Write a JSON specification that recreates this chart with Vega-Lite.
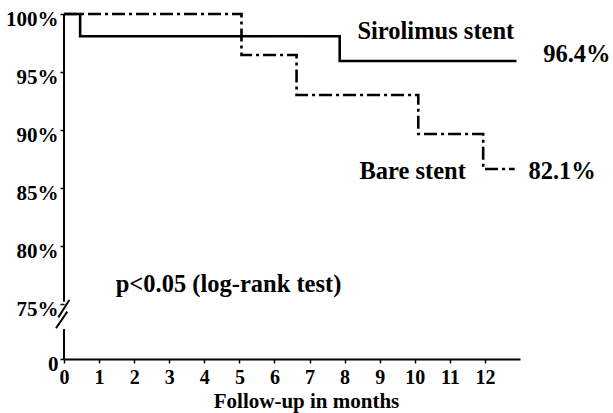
{
  "$schema": "https://vega.github.io/schema/vega-lite/v6.json",
  "autosize": "none",
  "padding": {"left": 64, "top": 14, "right": 93, "bottom": 54},
  "width": 456,
  "height": 345,
  "background": "white",
  "config": {
    "view": {"stroke": null},
    "axis": {
      "labelFont": "Liberation Serif",
      "labelFontWeight": "bold",
      "labelColor": "black",
      "titleFont": "Liberation Serif",
      "titleFontWeight": "bold",
      "titleColor": "black",
      "tickColor": "black",
      "domainColor": "black",
      "grid": false
    }
  },
  "datasets": {
    "curves": [
      {"group": "Sirolimus stent", "month": 0, "pct": 100},
      {"group": "Sirolimus stent", "month": 0.46, "pct": 98.08},
      {"group": "Sirolimus stent", "month": 7.86, "pct": 95.95},
      {"group": "Sirolimus stent", "month": 12.9, "pct": 95.95},
      {"group": "Bare stent", "month": 0, "pct": 100},
      {"group": "Bare stent", "month": 5.06, "pct": 96.47},
      {"group": "Bare stent", "month": 6.63, "pct": 93.02},
      {"group": "Bare stent", "month": 10.1, "pct": 89.66},
      {"group": "Bare stent", "month": 11.95, "pct": 86.64},
      {"group": "Bare stent", "month": 12.85, "pct": 86.64}
    ],
    "axisparts": [
      {"month": 0, "month2": 0, "pct": 75.2, "pct2": 100},
      {"month": 0, "month2": 0, "pct": 70.26, "pct2": 72.84},
      {"month": 0.151, "month2": -0.162, "pct": 75.34, "pct2": 73.85},
      {"month": 0.094, "month2": -0.228, "pct": 74.34, "pct2": 72.91}
    ],
    "labels": [
      {"month": 10.6, "pct": 98.45, "text": "Sirolimus stent"},
      {"month": 14.62, "pct": 96.47, "text": "96.4%"},
      {"month": 9.94, "pct": 86.4, "text": "Bare stent"},
      {"month": 14.2, "pct": 86.4, "text": "82.1%"},
      {"month": 4.69, "pct": 76.64, "text": "p<0.05 (log-rank test)"}
    ]
  },
  "encoding": {
    "x": {
      "field": "month", "type": "quantitative",
      "scale": {"domain": [0, 13], "nice": false, "zero": false},
      "axis": {
        "title": "Follow-up in months",
        "values": [0,1,2,3,4,5,6,7,8,9,10,11,12],
        "labelOverlap": false,
        "tickSize": 4, "tickWidth": 1.5, "domainWidth": 2.2,
        "labelFontSize": 20, "labelPadding": 4,
        "titleFontSize": 21, "titlePadding": 3,
        "titleX": 242, "titleAlign": "center",
        "labelFlush": false
      }
    },
    "y": {
      "field": "pct", "type": "quantitative",
      "scale": {"domain": [70.26, 100], "nice": false, "zero": false},
      "axis": {
        "title": null,
        "domain": false,
        "values": [70.26, 75, 80, 85, 90, 95, 100],
        "labelExpr": "datum.value < 71 ? '0' : datum.value + '%'",
        "labelOverlap": false,
        "tickSize": 4, "tickWidth": 1.5,
        "labelFontSize": 21, "labelPadding": 2, "labelOffset": 5,
        "labelFlush": false
      }
    }
  },
  "layer": [
    {
      "data": {"name": "curves"},
      "mark": {"type": "line", "interpolate": "step-after", "color": "black", "strokeWidth": 2.6, "clip": false},
      "encoding": {
        "detail": {"field": "group"},
        "strokeDash": {
          "field": "group", "type": "nominal",
          "scale": {"domain": ["Sirolimus stent", "Bare stent"], "range": [[1, 0], [13, 4, 3, 4]]},
          "legend": null
        }
      }
    },
    {
      "data": {"name": "axisparts"},
      "mark": {"type": "rule", "color": "black", "strokeWidth": 2, "clip": false},
      "encoding": {
        "x2": {"field": "month2"},
        "y2": {"field": "pct2"}
      }
    },
    {
      "data": {"name": "labels"},
      "mark": {"type": "text", "font": "Liberation Serif", "fontWeight": "bold", "fontSize": 24.5, "color": "black", "align": "center", "baseline": "middle", "clip": false},
      "encoding": {
        "text": {"field": "text"}
      }
    }
  ]
}
